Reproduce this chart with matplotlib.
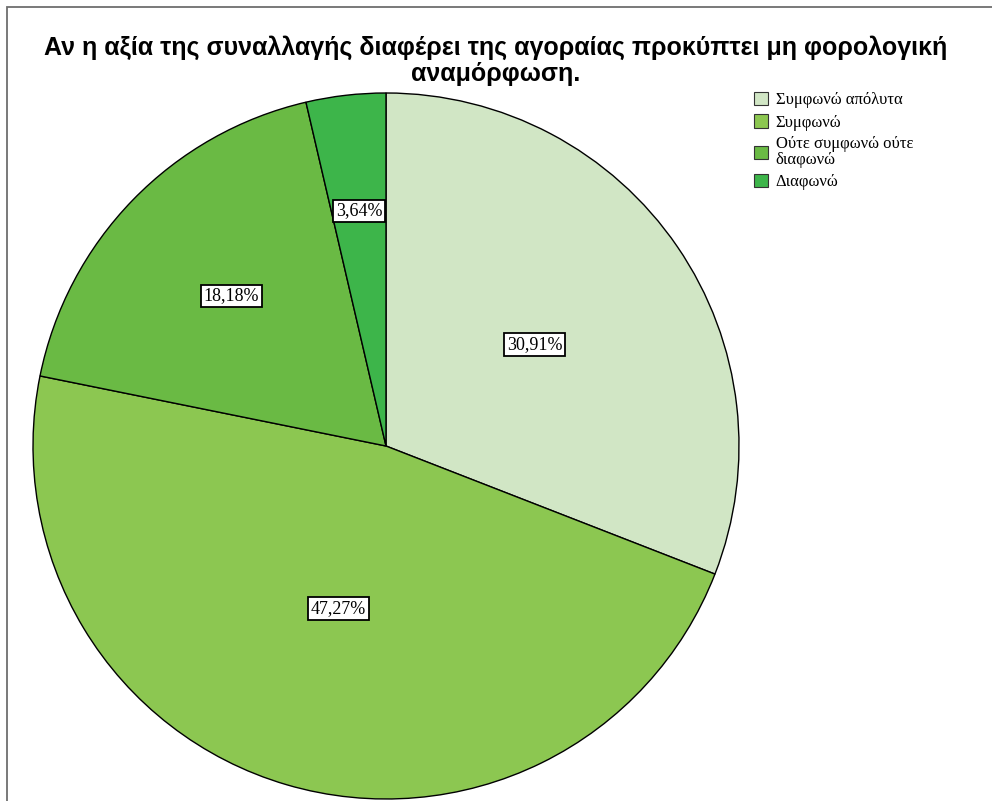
# -*- coding: utf-8 -*-

import numpy as np
import matplotlib.pyplot as plt
from matplotlib.patches import Rectangle, Patch

title = 'Αν η αξία της συναλλαγής διαφέρει της αγοραίας προκύπτει μη φορολογική\nαναμόρφωση.'
categories = ['Συμφωνώ απόλυτα', 'Συμφωνώ', 'Ούτε συμφωνώ ούτε\nδιαφωνώ', 'Διαφωνώ']
percents = [30.91, 47.27, 18.18, 3.64]
colors = ['#d1e6c5', '#8cc751', '#6aba44', '#3db54a']
# radial position of each value box, as a fraction of the radius
label_dist = [0.51, 0.48, 0.61, 0.67]

W, H = 992, 801
fig = plt.figure(figsize=(W / 100, H / 100), dpi=100)
fig.patch.set_facecolor('white')

# outer frame, open to the right and bottom
fig.add_artist(Rectangle((7 / W, -0.1), 1.2, (H - 7) / H + 0.1, transform=fig.transFigure,
                         fill=False, edgecolor='#6e6e6e', linewidth=1.3))

cx, cy, r = 386, 446, 353
ax = fig.add_axes([(cx - r) / W, (H - cy - r) / H, 2 * r / W, 2 * r / H])
wedges, _ = ax.pie(percents, colors=colors, startangle=90, counterclock=False,
                   radius=1, wedgeprops=dict(edgecolor='black', linewidth=1.0))
ax.set_xlim(-1, 1)
ax.set_ylim(-1, 1)
ax.set_aspect('equal')
ax.axis('off')

for w, p, d in zip(wedges, percents, label_dist):
    ang = np.deg2rad((w.theta1 + w.theta2) / 2)
    ax.text(d * np.cos(ang), d * np.sin(ang), ('%.2f%%' % p).replace('.', ','),
            ha='center', va='center', fontsize=13, family='Liberation Serif',
            bbox=dict(boxstyle='square,pad=0.15', facecolor='white', edgecolor='black', linewidth=1.3))

fig.text(496 / W, 1 - 61 / H, title, ha='center', va='center', fontsize=18,
         fontweight='bold', family='Liberation Sans', linespacing=1.1)

handles = [Patch(facecolor=c, edgecolor='#333333', linewidth=0.8) for c in colors]
leg = fig.legend(handles, categories, loc='upper left', bbox_to_anchor=(754 / W, 1 - 92 / H),
                 frameon=False, prop={'family': 'Liberation Serif', 'size': 12},
                 handlelength=0.85, handleheight=0.85, handletextpad=0.45, labelspacing=0.35,
                 borderaxespad=0, borderpad=0)
for t in leg.get_texts():
    t.set_linespacing(0.95)

fig.savefig('out.png', dpi=100)
